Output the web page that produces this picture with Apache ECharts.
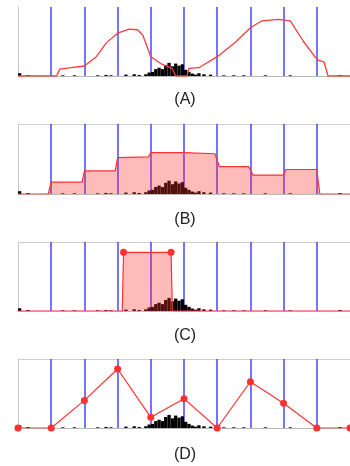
<!DOCTYPE html>
<html>
<head>
<meta charset="utf-8">
<script src="https://cdn.jsdelivr.net/npm/echarts@6/dist/echarts.min.js"></script>
<style>
  html, body { margin: 0; padding: 0; background: #fff; }
  #chart { width: 350px; height: 466px; }
</style>
</head>
<body>
<div id="chart"></div>
<script>
// histogram (same in every panel), bin centres and heights
const histX = [0.05, 0.3, 1.35, 1.7, 2.4, 2.65, 2.8, 3.25, 3.5, 3.65,
  3.85, 3.95, 4.05, 4.15, 4.25, 4.35, 4.45, 4.55, 4.65, 4.75, 4.85, 4.95,
  5.05, 5.15, 5.25, 5.35, 5.45, 5.6, 5.8, 6.2, 6.5, 6.8, 7.45, 8.2, 9.7];
const histY = [0.04, 0.015, 0.01, 0.01, 0.01, 0.015, 0.01, 0.02, 0.025, 0.015,
  0.025, 0.05, 0.06, 0.1, 0.12, 0.1, 0.16, 0.19, 0.14, 0.18, 0.15, 0.17,
  0.09, 0.06, 0.035, 0.02, 0.04, 0.025, 0.02, 0.01, 0.01, 0.01, 0.01, 0.01, 0.015];

// (A) smooth density curve
const aX = [0, 1.16, 1.26, 1.6, 2.0, 2.36, 2.66, 3.0, 3.35, 3.6, 3.76, 4.0, 4.3, 4.64, 4.75,
  5.09, 5.15, 5.45, 6.0, 6.55, 7.0, 7.35, 7.84, 8.2, 8.6, 8.94, 9.04, 9.22, 9.34, 10];
const aY = [0, 0, 0.1, 0.12, 0.145, 0.28, 0.48, 0.62, 0.68, 0.67, 0.59, 0.28, 0.18, 0.11, 0,
  0, 0.11, 0.12, 0.28, 0.49, 0.7, 0.8, 0.82, 0.8, 0.5, 0.28, 0.23, 0.2, 0, 0];

// (B) step levels per bin
const bX = [0, 0.91, 1.0, 1.93, 2.0, 2.93, 3.0, 3.93, 4.0, 5.0, 5.05, 5.93, 6.07, 6.95, 7.08, 8.0, 8.07, 9.0, 9.09, 10];
const bY = [0, 0, 0.17, 0.17, 0.33, 0.33, 0.52, 0.53, 0.59, 0.59, 0.575, 0.575, 0.39, 0.39, 0.27, 0.27, 0.35, 0.35, 0, 0];

// (C) single block
const cX = [0, 3.14, 3.18, 4.61, 4.65, 10];
const cY = [0, 0, 0.85, 0.85, 0, 0];
const cMark = [false, false, true, true, false, false];

// (D) values at bin edges
const dX = [0, 1, 2, 3, 4, 5, 6, 7, 8, 9, 10];
const dY = [0, 0, 0.4, 0.855, 0.155, 0.425, 0, 0.67, 0.36, 0, 0];

const labels = ['(A)', '(B)', '(C)', '(D)'];
const labelY = [100, 220, 336, 455];

const red = '#ff3030';
const pink = 'rgba(255,40,40,0.32)';

const pairs = (xs, ys) => xs.map((x, i) => [x, ys[i]]);

const chart = echarts.init(document.getElementById('chart'));

const tops = [7, 124, 242, 359];
const heights = [69, 70, 69, 69];

const grid = tops.map((t, i) => ({ left: 18, top: t, width: 334, height: heights[i] }));

const xAxis = tops.map((t, i) => ({
  type: 'value',
  gridIndex: i,
  min: 0,
  max: 10,
  interval: 1,
  axisLabel: { show: false },
  axisTick: { show: false },
  axisLine: { show: true, lineStyle: { color: '#b8b8b8', width: 1 } },
  splitLine: {
    show: true,
    showMinLine: false,
    showMaxLine: false,
    lineStyle: { color: 'rgba(50,50,255,0.85)', width: 1.6 }
  }
}));

const yAxis = tops.map((t, i) => ({
  type: 'value',
  gridIndex: i,
  min: 0,
  max: 1,
  interval: 1,
  axisLabel: { show: false },
  axisTick: { show: false },
  axisLine: { show: true, lineStyle: { color: '#c8c8c8', width: 1 } },
  splitLine: {
    show: i > 0,
    showMinLine: false,
    lineStyle: { color: '#cfcfcf', width: 1 }
  }
}));

const series = [];
tops.forEach((t, i) => {
  series.push({
    type: 'bar',
    xAxisIndex: i,
    yAxisIndex: i,
    barWidth: 3.3,
    itemStyle: { color: '#000' },
    z: 2,
    silent: true,
    data: pairs(histX, histY)
  });
});

series.push({
  type: 'line', xAxisIndex: 0, yAxisIndex: 0, z: 3,
  symbol: 'none',
  lineStyle: { color: '#ff3b3b', width: 1.3 },
  data: pairs(aX, aY)
});
series.push({
  type: 'line', xAxisIndex: 1, yAxisIndex: 1, z: 3,
  symbol: 'none',
  lineStyle: { color: red, width: 1.2 },
  areaStyle: { color: pink, opacity: 1 },
  data: pairs(bX, bY)
});
series.push({
  type: 'line', xAxisIndex: 2, yAxisIndex: 2, z: 3,
  symbol: 'circle',
  showAllSymbol: true,
  symbolSize: (val, params) => (cMark[params.dataIndex] ? 7 : 0),
  itemStyle: { color: red },
  lineStyle: { color: red, width: 1.2 },
  areaStyle: { color: pink, opacity: 1 },
  data: pairs(cX, cY)
});
series.push({
  type: 'line', xAxisIndex: 3, yAxisIndex: 3, z: 3,
  symbol: 'circle',
  showAllSymbol: true,
  symbolSize: 7,
  itemStyle: { color: red },
  lineStyle: { color: red, width: 1.2 },
  data: pairs(dX, dY)
});

chart.setOption({
  animation: false,
  grid: grid,
  xAxis: xAxis,
  yAxis: yAxis,
  series: series,
  graphic: labels.map((txt, i) => ({
    type: 'text',
    x: 185,
    y: labelY[i],
    style: {
      text: txt,
      fill: '#222',
      font: '16px "Liberation Sans", Arial, sans-serif',
      textAlign: 'center',
      textVerticalAlign: 'middle'
    }
  }))
});
</script>
</body>
</html>
